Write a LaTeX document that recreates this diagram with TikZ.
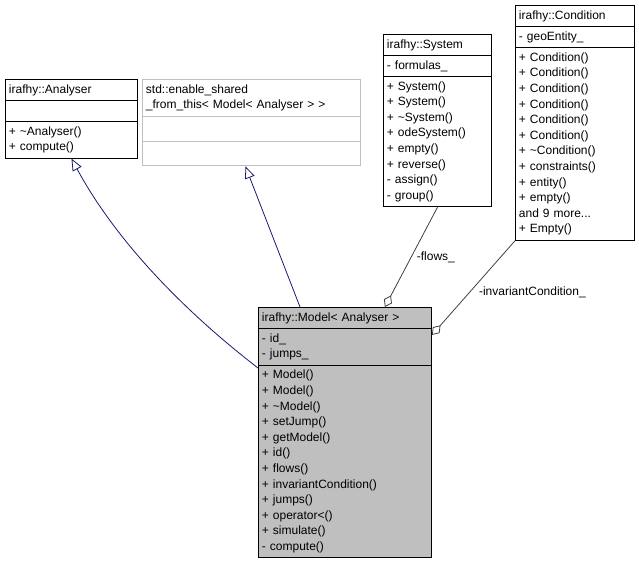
\documentclass[tikz,border=0pt]{standalone}
\usepackage{fontspec}
\setmainfont{Liberation Sans}
\usetikzlibrary{shapes.multipart,arrows.meta}
\definecolor{edgeblue}{HTML}{191970}
\definecolor{edgegray}{HTML}{404040}
\definecolor{boxgray}{HTML}{BFBFBF}
\begin{document}
\begin{tikzpicture}[x=1pt, y=-1pt, thick,
  cls/.style = {draw, rectangle split, rectangle split parts=3, anchor=north west,
    align=left, inner xsep=3.5pt, inner ysep=4.5pt, line width=0.9pt,
    font=\fontsize{12}{15.6}\selectfont},
  inherit/.style = {draw=edgeblue, line width=0.8pt, -{Triangle[open, length=12pt, width=10pt]}},
  member/.style = {draw=edgegray, line width=0.8pt, {Diamond[open, length=13pt, width=9pt]}-},
  lbl/.style = {font=\fontsize{12}{14}\selectfont, text=black}]
  \useasboundingbox (0,0) rectangle (639,565);

  \node[cls, text width=125pt] (analyser) at (5,79)
    {irafhy::Analyser \nodepart{second} \rule{0pt}{11pt} \nodepart{third} + \textasciitilde Analyser()\\+ compute()};
  \node[cls, draw=boxgray, text width=211pt] (shared) at (142,79)
    {std::enable\_shared\\\_from\_this< Model< Analyser > > \nodepart{second} \rule{0pt}{15pt} \nodepart{third} \rule{0pt}{15pt}};
  \node[cls, text width=101pt] (system) at (383,34)
    {irafhy::System \nodepart{second} - formulas\_ \nodepart{third}
     + System()\\+ System()\\+ \textasciitilde System()\\+ odeSystem()\\+ empty()\\+ reverse()\\- assign()\\- group()};
  \node[cls, text width=112pt] (condition) at (515,5)
    {irafhy::Condition \nodepart{second} - geoEntity\_ \nodepart{third}
     + Condition()\\+ Condition()\\+ Condition()\\+ Condition()\\+ Condition()\\+ Condition()\\+ \textasciitilde Condition()\\+ constraints()\\+ entity()\\+ empty()\\and 9 more...\\+ Empty()};
  \node[cls, fill=boxgray, text width=166pt] (model) at (258,307)
    {irafhy::Model< Analyser > \nodepart{second} - id\_\\- jumps\_ \nodepart{third}
     + Model()\\+ Model()\\+ \textasciitilde Model()\\+ setJump()\\+ getModel()\\+ id()\\+ flows()\\+ invariantCondition()\\+ jumps()\\+ operator<()\\+ simulate()\\- compute()};

  \coordinate (mw) at (258,368);
  \draw[inherit] (mw) .. controls (170,300) and (110,230) .. (analyser.south);
  \draw[inherit] (model.north west) ++(42,0) coordinate (mn) -- ([xshift=-6pt]shared.south);
  \draw[member] ([xshift=-47pt]model.north east) -- (system.south) node[lbl, pos=0.5, right=2pt] {-flows\_};
  \draw[member] ([yshift=-28pt]model.north east) -- (condition.south west) node[lbl, pos=0.45, right=6pt] {-invariantCondition\_};
\end{tikzpicture}
\end{document}
